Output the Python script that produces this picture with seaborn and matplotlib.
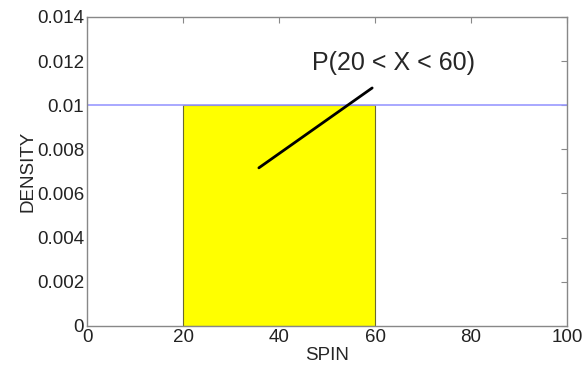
import numpy as np
import pandas as pd
import matplotlib
matplotlib.use('Agg')
import matplotlib.pyplot as plt
import seaborn as sns

# uniform density on [0, 100], shaded region 20..60
spin = [0, 100]
density = [0.01, 0.01]
shade_lo, shade_hi = 20, 60
pointer_x = [35.8, 59.4]
pointer_y = [0.00716, 0.01078]
label_text = 'P(20 < X < 60)'
label_pos = (63.8, 0.0119)

sns.set_style('white')
plt.rcParams['font.family'] = ['Liberation Sans', 'DejaVu Sans']

fig = plt.figure(figsize=(5.84, 3.67), dpi=100)
ax = fig.add_axes([0.149, 0.112, 0.822, 0.842])

df = pd.DataFrame({'SPIN': spin, 'DENSITY': density})
sns.lineplot(data=df, x='SPIN', y='DENSITY', color='#9a9aff', linewidth=1.2, ax=ax)

# shaded bar
ax.bar((shade_lo + shade_hi) / 2, density[0], width=shade_hi - shade_lo,
       color='#ffff00', edgecolor='#6b6b30', linewidth=0.8, zorder=1)

# pointer line and label
sns.lineplot(x=pointer_x, y=pointer_y, color='black', linewidth=2, ax=ax)
ax.text(label_pos[0], label_pos[1], label_text, ha='center', va='center', fontsize=18)

ax.set_xlim(0, 100)
ax.set_ylim(0, 0.014)
ax.set_xticks([0, 20, 40, 60, 80, 100])
ax.set_yticks([0, 0.002, 0.004, 0.006, 0.008, 0.01, 0.012, 0.014])
ax.set_yticklabels(['0', '0.002', '0.004', '0.006', '0.008', '0.01', '0.012', '0.014'])
ax.tick_params(direction='in', length=4, color='#888888', labelsize=13.5,
               top=True, right=True, labelcolor='#222222', pad=2)
for s in ax.spines.values():
    s.set_color('#888888')
    s.set_linewidth(1)
ax.set_xlabel('SPIN', fontsize=13.5, labelpad=1)
ax.set_ylabel('DENSITY', fontsize=13.5, labelpad=0)

fig.savefig('out.png', dpi=100)
